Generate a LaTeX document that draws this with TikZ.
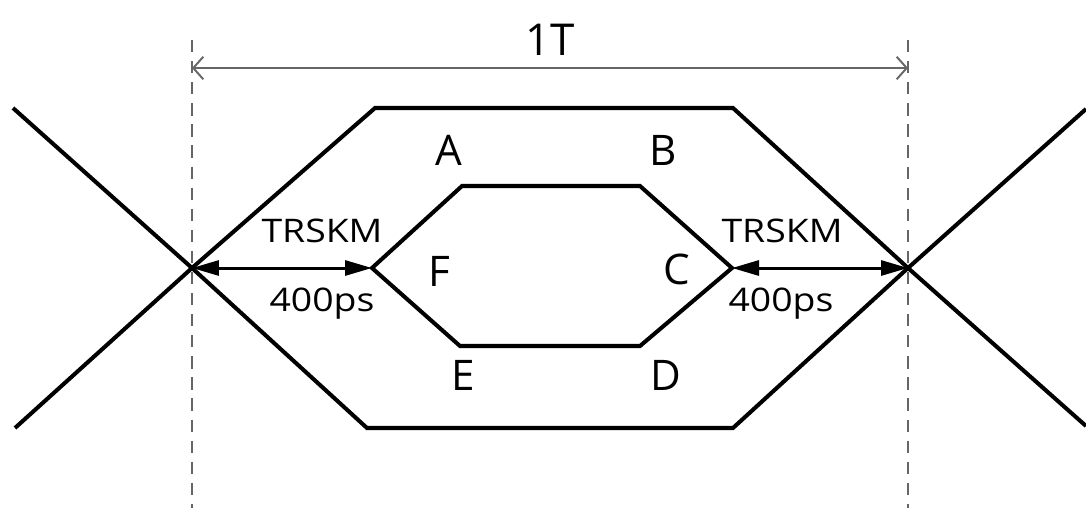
\documentclass[tikz,border=0pt]{standalone}
\usepackage{fontspec}
\setmainfont{Open Sans}
\newfontfamily\tagfont{Open Sans}[FakeStretch=1.15]
\usetikzlibrary{arrows.meta,positioning,calc}

\tikzset{
  eye/.style={line width=2.3pt, line join=miter},
  guide/.style={gray!80!black, line width=0.9pt, dash pattern=on 7pt off 5pt},
  span/.style={gray!80!black, line width=1.1pt, {Straight Barb[length=2mm,width=4.5mm]}-{Straight Barb[length=2mm,width=4.5mm]}},
  skew/.style={line width=1.7pt, {Triangle[length=5.4mm,width=3mm]}-{Triangle[length=5.4mm,width=3mm]}},
  letter/.style={font=\fontsize{24}{26}\selectfont},
  tag/.style={font=\tagfont\fontsize{18.5}{20}\selectfont}
}

\begin{document}
\begin{tikzpicture}[x=0.02cm, y=-0.02cm]
\useasboundingbox (0,0) rectangle (1086,508);

% Crossing points and guide lines
\coordinate (XL) at (192,268);
\coordinate (XR) at (908,268);
\coordinate (GLt) at (192,40);
\coordinate (GLb) at (192,508);
\coordinate (GRt) at (908,40);
\coordinate (GRb) at (908,508);
\draw[guide] (GLt) -- (GLb);
\draw[guide] (GRt) -- (GRb);

% Period 1T
\coordinate (TL) at (192,68);
\coordinate (TR) at (908,68);
\draw[span] (TL) -- (TR);
\node[font=\fontsize{25}{28}\selectfont] (period) at (550,40) {1T};

% Outer eye
\coordinate (LT) at (13,108);
\coordinate (LB) at (15,428);
\coordinate (RT) at (1086,109);
\coordinate (RB) at (1086,426);
\coordinate (OTL) at (375,108);
\coordinate (OTR) at (733,108);
\coordinate (OBL) at (367,428);
\coordinate (OBR) at (733,428);
\draw[eye] (LT) -- (XL) -- (OBL) -- (OBR) -- (XR) -- (RT);
\draw[eye] (LB) -- (XL) -- (OTL) -- (OTR) -- (XR) -- (RB);

% Inner eye
\coordinate (pA) at (462,186);
\coordinate (pB) at (640,186);
\coordinate (pC) at (732,268);
\coordinate (pD) at (640,346);
\coordinate (pE) at (460,346);
\coordinate (pF) at (372,268);
\draw[eye] (pF) -- (pA) -- (pB) -- (pC) -- (pD) -- (pE) -- cycle;

% Corner labels
\foreach \name/\x/\y in {A/449/150, B/663/150, C/677/269, D/666/375, E/463/375, F/439/271} {
  \node[letter] (lab\name) at (\x,\y) {\name};
}

% Skew margins
\draw[skew] (XL) -- (pF);
\draw[skew] (pC) -- (XR);
\node[tag] (skewL) at (322,231) {TRSKM};
\node[tag] (timeL) at (322,304) {400ps};
\node[tag] (skewR) at (782,231) {TRSKM};
\node[tag] (timeR) at (781,304) {400ps};

\end{tikzpicture}
\end{document}
